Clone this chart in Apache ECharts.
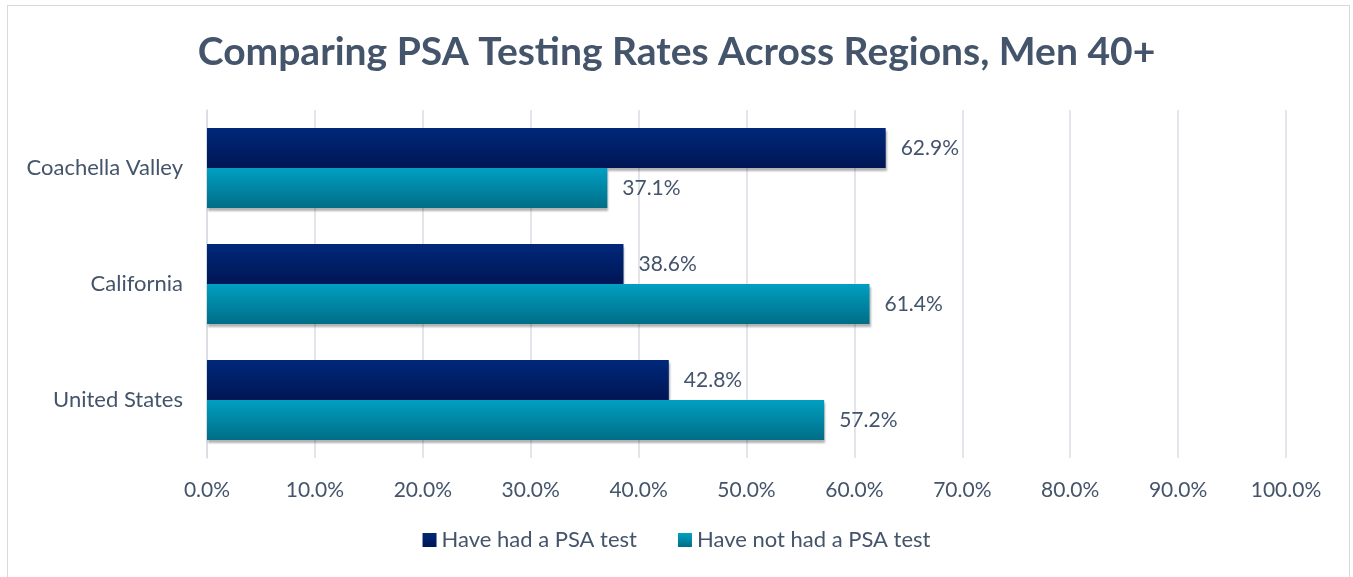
<!DOCTYPE html>
<html>
<head>
<meta charset="utf-8">
<script src="https://cdn.jsdelivr.net/npm/echarts@6/dist/echarts.min.js"></script>
<style>
  html, body { margin: 0; padding: 0; background: #fff; }
  #chart { width: 1353px; height: 577px; }
  .frame { position: absolute; left: 7px; top: 5px; width: 1343px; height: 580px; border: 1px solid #d9d9d9; box-sizing: border-box; pointer-events: none; }
</style>
</head>
<body>
<div id="chart"></div>
<div class="frame"></div>
<script>
// 数据
var regions = ['Coachella Valley', 'California', 'United States'];
var seriesNames = ['Have had a PSA test', 'Have not had a PSA test'];
var hadTest = [62.9, 38.6, 42.8];
var notHadTest = [37.1, 61.4, 57.2];

var textColor = '#44546A';
var fontName = 'Lato, "Open Sans", sans-serif';

function grad(top, bottom) {
    return new echarts.graphic.LinearGradient(0, 0, 0, 1, [
        { offset: 0, color: top },
        { offset: 1, color: bottom }
    ]);
}

var chart = echarts.init(document.getElementById('chart'));

var barStyle = function(top, bottom) {
    return {
        color: grad(top, bottom),
        shadowColor: 'rgba(0,0,0,0.3)',
        shadowOffsetY: 3,
        shadowOffsetX: 1,
        shadowBlur: 2
    };
};

var pctLabel = {
    show: true,
    position: 'right',
    distance: 15,
    color: textColor,
    fontSize: 21,
    formatter: function(p) { return p.value.toFixed(1) + '%'; }
};

var option = {
    animation: false,
    textStyle: { fontFamily: fontName },
    title: {
        text: 'Comparing PSA Testing Rates Across Regions, Men 40+',
        left: 'center',
        top: 28,
        textStyle: { color: textColor, fontSize: 39, fontWeight: 'bold', fontFamily: fontName }
    },
    legend: {
        bottom: 21,
        left: 'center',
        itemWidth: 14,
        itemHeight: 14,
        itemGap: 41,
        icon: 'rect',
        textStyle: { color: textColor, fontSize: 22 },
        data: seriesNames
    },
    grid: { left: 207, right: 67, top: 110, bottom: 119 },
    xAxis: {
        type: 'value',
        min: 0,
        max: 100,
        interval: 10,
        axisLine: { show: false },
        axisTick: { show: false },
        splitLine: { lineStyle: { color: '#d9dde3', width: 1.5 } },
        axisLabel: {
            color: textColor,
            fontSize: 21,
            margin: 22,
            formatter: function(v) { return v.toFixed(1) + '%'; }
        }
    },
    yAxis: {
        type: 'category',
        inverse: true,
        data: regions,
        axisLine: { lineStyle: { color: '#d9dde3', width: 1.5 } },
        axisTick: { show: false },
        axisLabel: { color: textColor, fontSize: 22, margin: 24 }
    },
    series: [{
        name: seriesNames[0],
        type: 'bar',
        barGap: '0%',
        barCategoryGap: '31%',
        data: hadTest,
        itemStyle: barStyle('#00287a', '#001655'),
        label: pctLabel
    }, {
        name: seriesNames[1],
        type: 'bar',
        data: notHadTest,
        itemStyle: barStyle('#00a0c2', '#006d86'),
        label: pctLabel
    }]
};

chart.setOption(option);
</script>
</body>
</html>
